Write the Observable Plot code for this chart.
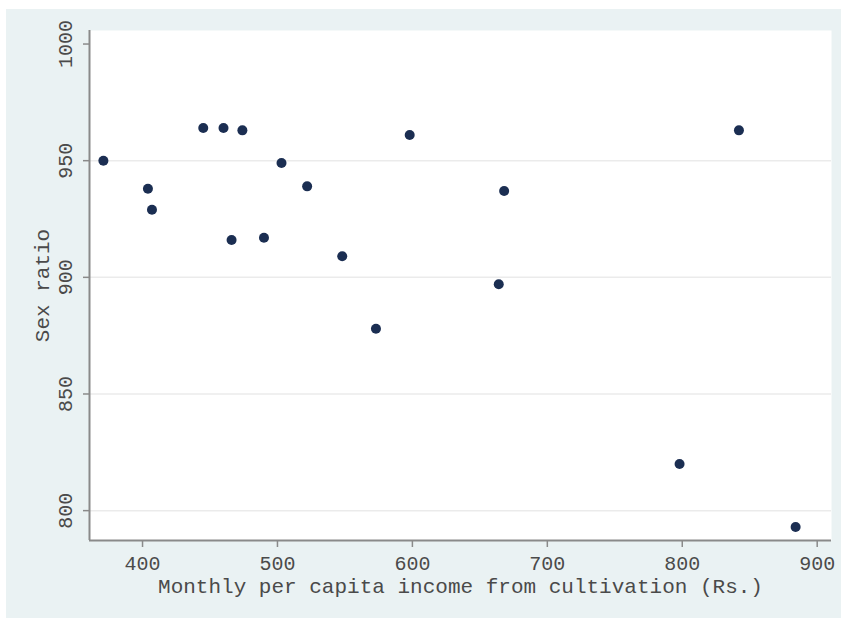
<!DOCTYPE html>
<html><head><meta charset="utf-8">
<script src="https://cdn.jsdelivr.net/npm/d3@7"></script>
<script src="https://cdn.jsdelivr.net/npm/@observablehq/plot@0.6"></script>
<style>
body{margin:0;background:#fff;}
#wrap{position:relative;width:841px;height:618px;overflow:hidden;background:#fff;}
#bg{position:absolute;left:6px;top:9px;right:0;bottom:0;background:#eaf2f3;}
#chart{position:absolute;left:0;top:0;}
</style></head>
<body><div id="wrap"><div id="bg"></div><div id="chart"></div></div>
<script>
const income = [371, 404, 407, 445, 460, 474, 466, 490, 503, 522, 548, 573, 598, 668, 664, 798, 842, 884];
const sexRatio = [950, 938, 929, 964, 964, 963, 916, 917, 949, 939, 909, 878, 961, 937, 897, 820, 963, 793];
const xTicks = [400, 500, 600, 700, 800, 900];
const yTicks = [800, 850, 900, 950, 1000];
const gridTicks = [800, 850, 900, 950];
const xTitle = "Monthly per capita income from cultivation (Rs.)";
const yTitle = "Sex ratio";
const xDomain = [360.7, 910.6];
const yDomain = [787.2, 1005.8];

const data = income.map((x, i) => ({x, y: sexRatio[i]}));
const font = "'Liberation Mono', 'DejaVu Sans Mono', monospace";
const axisColor = "#8a8a8a";
const textColor = "#4a4a4a";

const chart = Plot.plot({
  width: 841, height: 618,
  marginLeft: 89, marginRight: 10, marginTop: 30, marginBottom: 78,
  style: {background: "transparent", fontFamily: font, fontSize: "20px", color: textColor},
  x: {domain: xDomain, label: null},
  y: {domain: yDomain, label: null},
  marks: [
    Plot.frame({fill: "white", stroke: null}),
    Plot.gridY(gridTicks, {stroke: "#ebebeb", strokeOpacity: 1, strokeWidth: 1.5}),
    Plot.ruleX([xDomain[0]], {stroke: axisColor, strokeWidth: 2}),
    Plot.ruleY([yDomain[0]], {stroke: axisColor, strokeWidth: 2}),
    Plot.axisX(xTicks, {tickSize: 7, tickPadding: 8, stroke: axisColor, strokeWidth: 1.5, fill: textColor, fontSize: 20, fontFamily: font}),
    Plot.axisY(yTicks, {tickSize: 6, tickFormat: () => "", stroke: axisColor, strokeWidth: 1.5}),
    Plot.text(yTicks, {y: d => d, text: d => String(d), frameAnchor: "left", dx: -24, rotate: -90,
      textAnchor: "middle", lineAnchor: "middle", fill: textColor, fontSize: 20, fontFamily: font}),
    Plot.dot(data, {x: "x", y: "y", r: 5, fill: "#1b2e52", stroke: "none"}),
    Plot.text([xTitle], {frameAnchor: "bottom", dy: 46, lineAnchor: "middle", fill: textColor, fontSize: 21, fontFamily: font}),
    Plot.text([yTitle], {frameAnchor: "left", dx: -47, rotate: -90, textAnchor: "middle", lineAnchor: "middle", fill: textColor, fontSize: 21, fontFamily: font})
  ]
});
document.getElementById("chart").appendChild(chart);
</script>
</body></html>
